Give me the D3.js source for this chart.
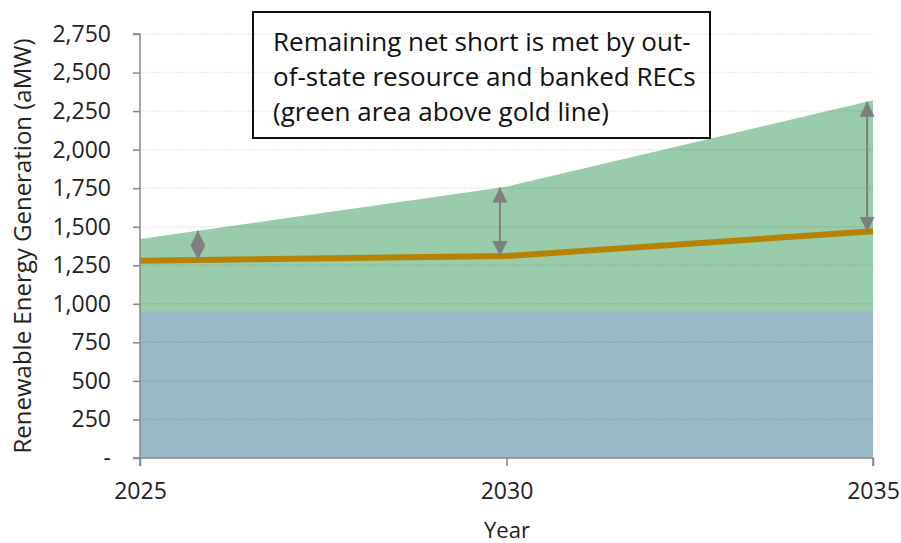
<!DOCTYPE html>
<html>
<head>
<meta charset="utf-8">
<script src="https://cdn.jsdelivr.net/npm/d3@7"></script>
<style>
  html, body { margin: 0; padding: 0; background: #fff; }
  svg { display: block; font-family: "Open Sans", Lato, sans-serif; }
</style>
</head>
<body>
<svg id="chart" width="901" height="543"></svg>
<script>
// ---- data ----
const years = [2025, 2030, 2035];
const inStateResource = [950, 950, 950];          // blue area
const totalRenewable = [1420, 1760, 2320];        // green area top
const netShortLine = [1280, 1310, 1470];          // gold line
const arrowYears = [2025.79, 2029.91, 2034.92];   // annotation arrow positions
const yTicks = [0, 250, 500, 750, 1000, 1250, 1500, 1750, 2000, 2250, 2500, 2750];
const xTicks = [2025, 2030, 2035];
const noteLines = [
  "Remaining net short is met by out-",
  "of-state resource and banked RECs",
  "(green area above gold line)"
];

// ---- layout ----
const svg = d3.select("#chart");
const x = d3.scaleLinear().domain([2025, 2035]).range([140, 873]);
const y = d3.scaleLinear().domain([0, 2750]).range([458, 34]);

const rows = years.map((yr, i) => ({ yr, blue: inStateResource[i], green: totalRenewable[i], gold: netShortLine[i] }));

// green area (total)
svg.append("path")
  .datum(rows)
  .attr("fill", "#98CCAA")
  .attr("d", d3.area().x(d => x(d.yr)).y0(y(0)).y1(d => y(d.green)));

// blue area
svg.append("path")
  .datum(rows)
  .attr("fill", "#99B8C8")
  .attr("d", d3.area().x(d => x(d.yr)).y0(y(0)).y1(d => y(d.blue)));

// gridlines (on top of fills)
svg.append("g")
  .selectAll("line")
  .data(yTicks.filter(t => t > 0))
  .join("line")
  .attr("x1", x(2025)).attr("x2", x(2035))
  .attr("y1", d => y(d)).attr("y2", d => y(d))
  .attr("stroke", "#000")
  .attr("stroke-opacity", 0.08)
  .attr("stroke-width", 1.5)
  .attr("stroke-dasharray", "2,1");

// gold line
svg.append("path")
  .datum(rows)
  .attr("fill", "none")
  .attr("stroke", "#B58300")
  .attr("stroke-width", 6)
  .attr("d", d3.line().x(d => x(d.yr)).y(d => y(d.gold)));

// arrow markers
const defs = svg.append("defs");
defs.append("marker")
  .attr("id", "ah")
  .attr("viewBox", "0 0 16 16")
  .attr("refX", 16).attr("refY", 8)
  .attr("markerWidth", 15).attr("markerHeight", 15)
  .attr("markerUnits", "userSpaceOnUse")
  .attr("orient", "auto-start-reverse")
  .append("path")
  .attr("d", "M0,0 L16,8 L0,16 Z")
  .attr("fill", "#7F7F7F");

const interp = (arr, yr) => d3.scaleLinear().domain(years).range(arr)(yr);
svg.append("g")
  .selectAll("line")
  .data(arrowYears)
  .join("line")
  .attr("x1", d => x(d)).attr("x2", d => x(d))
  .attr("y1", d => y(interp(netShortLine, d)))
  .attr("y2", d => y(interp(totalRenewable, d)))
  .attr("stroke", "#7F7F7F")
  .attr("stroke-width", 2)
  .attr("marker-start", "url(#ah)")
  .attr("marker-end", "url(#ah)");

// axes
const axisColor = "#868686";
const yAxis = svg.append("g")
  .attr("transform", `translate(${x(2025)},0)`)
  .call(d3.axisLeft(y).tickValues(yTicks).tickSize(7).tickPadding(22)
    .tickFormat(d => d === 0 ? "-" : d3.format(",")(d)));
yAxis.select(".domain").attr("stroke", axisColor).attr("stroke-width", 1.5).attr("d", `M-7,${y(2750)}H0V${y(0)}H-7`);
yAxis.selectAll(".tick line").attr("stroke", axisColor).attr("stroke-width", 1.5);
yAxis.selectAll(".tick text").attr("font-size", 23).attr("fill", "#222").attr("font-family", "Open Sans");

const xAxis = svg.append("g")
  .attr("transform", `translate(0,${y(0)})`)
  .call(d3.axisBottom(x).tickValues(xTicks).tickSize(8).tickPadding(17).tickFormat(d3.format("d")));
xAxis.select(".domain").attr("stroke", axisColor).attr("stroke-width", 1.5).attr("d", `M${x(2025)},8V0H${x(2035)}V8`);
xAxis.selectAll(".tick line").attr("stroke", axisColor).attr("stroke-width", 1.5);
xAxis.selectAll(".tick text").attr("font-size", 23).attr("fill", "#222").attr("font-family", "Open Sans");

// axis titles
svg.append("text")
  .attr("transform", `translate(31,246) rotate(-90)`)
  .attr("text-anchor", "middle")
  .attr("font-size", 24).attr("fill", "#222")
  .text("Renewable Energy Generation (aMW)");
svg.append("text")
  .attr("x", 507).attr("y", 538)
  .attr("text-anchor", "middle")
  .attr("font-size", 22).attr("fill", "#222")
  .text("Year");

// annotation box
svg.append("rect")
  .attr("x", 253).attr("y", 12).attr("width", 457).attr("height", 126)
  .attr("fill", "none").attr("stroke", "#111").attr("stroke-width", 2);
svg.append("g")
  .selectAll("text")
  .data(noteLines)
  .join("text")
  .attr("x", 273)
  .attr("y", (d, i) => 51 + i * 35)
  .attr("font-size", 26)
  .attr("fill", "#111")
  .text(d => d);
</script>
</body>
</html>
